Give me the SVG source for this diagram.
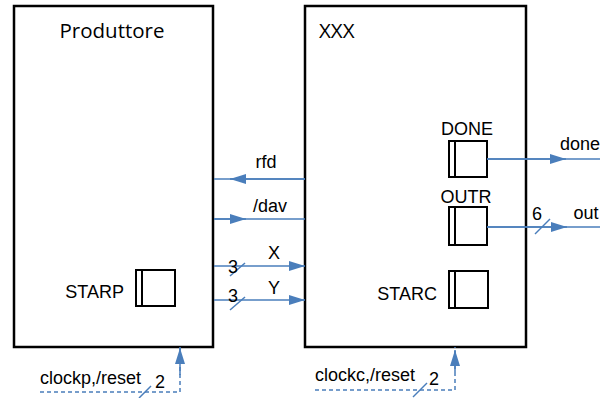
<svg xmlns="http://www.w3.org/2000/svg" width="613" height="398" viewBox="0 0 613 398">
<defs>
<marker id="ah" markerWidth="16" markerHeight="10" refX="16" refY="5" orient="auto" markerUnits="userSpaceOnUse">
<path d="M0,0 L16,5 L0,10 Z" fill="#4A7EBB"/>
</marker>
<style>
.blk{fill:#fff;stroke:#000;stroke-width:2.5}
.reg{fill:#fff;stroke:#000;stroke-width:2}
.sig{stroke:#4A7EBB;stroke-width:1.5;fill:none}
.dash{stroke:#4A7EBB;stroke-width:1.5;fill:none;stroke-dasharray:4,3}
.t{font-family:"Liberation Sans",Arial,sans-serif;font-size:18px;fill:#000}
.h{font-family:"Open Sans","Liberation Sans",sans-serif;font-size:20.5px;fill:#000}
</style>
</defs>
<g id="produttore">
<rect class="blk" x="14" y="6" width="199" height="341"/>
<text class="h" x="112" y="38" text-anchor="middle">Produttore</text>
</g>
<g id="xxx">
<rect class="blk" x="305" y="6" width="221" height="341"/>
<text class="h" x="319" y="38">XXX</text>
</g>
<g id="starp">
<rect class="reg" x="136" y="270" width="39" height="36"/>
<line x1="142" y1="270" x2="142" y2="306" stroke="#000" stroke-width="2"/>
<text class="t" x="124" y="298" text-anchor="end">STARP</text>
</g>
<g id="done">
<rect class="reg" x="449" y="141" width="38" height="36"/>
<line x1="455" y1="141" x2="455" y2="177" stroke="#000" stroke-width="2"/>
<text class="t" x="467" y="135" text-anchor="middle">DONE</text>
</g>
<g id="outr">
<rect class="reg" x="449" y="207" width="38" height="38"/>
<line x1="455" y1="207" x2="455" y2="245" stroke="#000" stroke-width="2"/>
<text class="t" x="466" y="203" text-anchor="middle">OUTR</text>
</g>
<g id="starc">
<rect class="reg" x="449" y="271" width="39" height="37"/>
<line x1="455" y1="271" x2="455" y2="308" stroke="#000" stroke-width="2"/>
<text class="t" x="437" y="300" text-anchor="end">STARC</text>
</g>
<g id="connectors">
<line class="sig" x1="305" y1="179" x2="214" y2="179"/>
<line class="sig" x1="305" y1="179" x2="230" y2="179" marker-end="url(#ah)"/>
<text class="t" x="266" y="168" text-anchor="middle">rfd</text>
<line class="sig" x1="214" y1="219" x2="305" y2="219"/>
<line class="sig" x1="214" y1="219" x2="246" y2="219" marker-end="url(#ah)"/>
<text class="t" x="270" y="212" text-anchor="middle">/dav</text>
<line class="sig" x1="214" y1="266" x2="305" y2="266" marker-end="url(#ah)"/>
<line class="sig" x1="230" y1="276" x2="245" y2="263"/>
<text class="t" x="233" y="273" text-anchor="middle">3</text>
<text class="t" x="274" y="259" text-anchor="middle">X</text>
<line class="sig" x1="214" y1="300" x2="305" y2="300" marker-end="url(#ah)"/>
<line class="sig" x1="230" y1="310" x2="245" y2="297"/>
<text class="t" x="233" y="302" text-anchor="middle">3</text>
<text class="t" x="274" y="294" text-anchor="middle">Y</text>
<line class="sig" x1="487" y1="159" x2="600" y2="159"/>
<line class="sig" x1="487" y1="159" x2="566" y2="159" marker-end="url(#ah)"/>
<text class="t" x="580" y="150" text-anchor="middle">done</text>
<line class="sig" x1="487" y1="227" x2="600" y2="227"/>
<line class="sig" x1="487" y1="227" x2="567" y2="227" marker-end="url(#ah)"/>
<line class="sig" x1="535" y1="234" x2="550" y2="219"/>
<text class="t" x="537" y="220" text-anchor="middle">6</text>
<text class="t" x="586" y="219" text-anchor="middle">out</text>
<path class="dash" d="M40,392 L180,392 L180,347"/>
<line class="sig" x1="180" y1="375" x2="180" y2="348" marker-end="url(#ah)"/>
<line class="sig" x1="139" y1="398" x2="151" y2="386"/>
<text class="t" x="40" y="384">clockp,/reset</text>
<text class="t" x="160" y="388" text-anchor="middle">2</text>
<path class="dash" d="M315,390 L455,390 L455,347"/>
<line class="sig" x1="455" y1="372" x2="455" y2="350" marker-end="url(#ah)"/>
<line class="sig" x1="413" y1="397" x2="427" y2="383"/>
<text class="t" x="315" y="381">clockc,/reset</text>
<text class="t" x="434" y="385" text-anchor="middle">2</text>
</g>
</svg>
